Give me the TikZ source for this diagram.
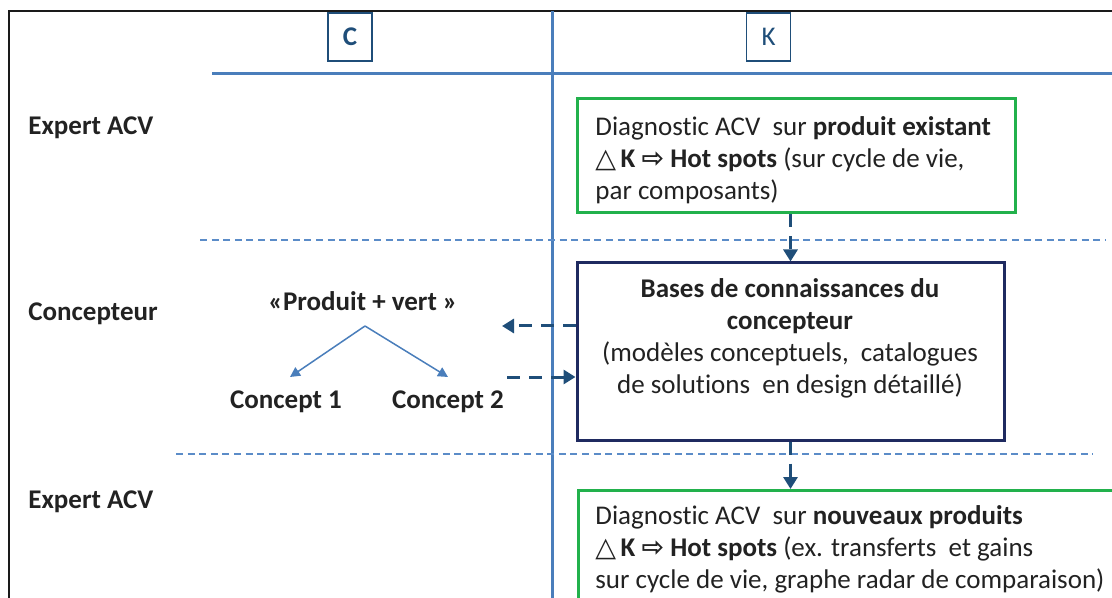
\documentclass[tikz,border=0pt]{standalone}
\usepackage{fontspec}
\setmainfont{Carlito}[Ligatures=NoCommon]
\newfontfamily\symbolfont{DejaVu Sans}
\usetikzlibrary{arrows.meta}
\definecolor{frameBlack}{HTML}{1A1A1A}
\definecolor{axisBlue}{HTML}{4A7EBB}
\definecolor{sepBlue}{HTML}{5B8CC8}
\definecolor{flowBlue}{HTML}{1F4E79}
\definecolor{boxGreen}{HTML}{22B14C}
\definecolor{boxNavy}{HTML}{1F2A60}
\definecolor{textBlack}{HTML}{222222}
\newcommand{\hotspots}{{\symbolfont △}\,\textbf{K} {\symbolfont\bfseries ⇨} \textbf{Hot spots}}
\tikzset{
    % node style
    every node/.style = {font=\fontsize{13.5}{16}\selectfont, text=textBlack},
    % line styles
    frame/.style = {draw=frameBlack, line width=1pt},
    axis/.style = {draw=axisBlue, line width=1.5pt},
    separator/.style = {draw=sepBlue, line width=0.75pt, dash pattern=on 3.5pt off 2.3pt},
    % arrow styles
    flow/.style = {draw=flowBlue, line width=1.5pt, dash pattern=on 6.5pt off 4.5pt,
        -{Triangle[width=7pt, length=6pt]}},
    branch/.style = {draw=axisBlue, line width=0.75pt, -{Triangle[width=5pt, length=5pt]}},
    % box styles
    spacebox/.style = {draw=flowBlue, line width=0.6pt, minimum width=22pt, minimum height=24pt,
        inner sep=0pt, text=flowBlue},
    greenbox/.style = {draw=boxGreen, line width=1.5pt, inner sep=0pt},
    navybox/.style = {draw=boxNavy, line width=1.5pt, inner sep=0pt},
    boxtext/.style = {inner sep=0pt, anchor=west, align=left},
    actor/.style = {inner sep=0pt, anchor=west, font=\fontsize{13.5}{16}\selectfont\bfseries},
    concept/.style = {inner sep=0pt, font=\fontsize{13.5}{16}\selectfont\bfseries}
}

\begin{document}
\begin{tikzpicture}[x=0.5pt, y=-0.5pt]
    \useasboundingbox (0,0) rectangle (1112,598);
    \clip (0,0) rectangle (1112,598);
    % frame, axes and lane separators
    \draw[frame] (9,598) -- (9,11) -- (1112,11);
    \draw[axis] (552,11) -- (552,598);
    \draw[axis] (212,74) -- (1112,74);
    \draw[separator] (200,240) -- (1105,240);
    \draw[separator] (176,454) -- (1093,454);
    % C and K headers
    \node[spacebox, font=\fontsize{13.5}{16}\selectfont\bfseries] (C) at (350,37) {C};
    \node[spacebox] (K) at (768.5,37) {K};
    % actors
    \node[actor] (expert1) at (28,128) {Expert ACV};
    \node[actor] (designer) at (28,314) {Concepteur};
    \node[actor] (expert2) at (28,502) {Expert ACV};
    % boxes
    \node[greenbox, minimum width=219pt, minimum height=57pt] (diag1) at (796,156) {};
    \node[boxtext] (diag1txt) at (595,160)
        {Diagnostic ACV~ sur \textbf{produit existant}\\
         \hotspots\ (sur cycle de vie,\\
         par composants)};
    \node[navybox, minimum width=213.5pt, minimum height=88.5pt] (bases) at (790.5,351.5) {};
    \node[inner sep=0pt, align=center] (basestxt) at (790,338.5)
        {\textbf{Bases de connaissances du}\\
         \textbf{concepteur}\\
         (modèles conceptuels,~ catalogues\\
         de solutions~ en design détaillé)};
    \node[greenbox, anchor=north west, minimum width=300pt, minimum height=80pt] (diag2) at (577,489) {};
    \node[boxtext] (diag2txt) at (595,549)
        {Diagnostic ACV~ sur \textbf{nouveaux produits}\\
         \hotspots\ (ex. transferts~ et gains\\
         sur cycle de vie, graphe radar de comparaison)};
    % concepts
    \node[concept] (vert) at (363,301) {«Produit + vert »};
    \node[concept] (concept1) at (286,402) {Concept 1};
    \node[concept] (concept2) at (448,402) {Concept 2};
    \coordinate (split) at (365,326);
    \coordinate (tip1) at (290,377);
    \coordinate (tip2) at (448,377);
    \draw[branch] (split) -- (tip1);
    \draw[branch] (split) -- (tip2);
    % knowledge flows
    \coordinate (outC) at (502,326);
    \coordinate (inC) at (507,377);
    \draw[flow] (bases.north |- diag1.south) -- (bases.north);
    \draw[flow] (bases.south) -- (bases.south |- diag2.north);
    \draw[flow] ([yshift=12.75pt]bases.west) -- (outC);
    \draw[flow] (inC) -- ([yshift=-12.75pt]bases.west);
\end{tikzpicture}
\end{document}
